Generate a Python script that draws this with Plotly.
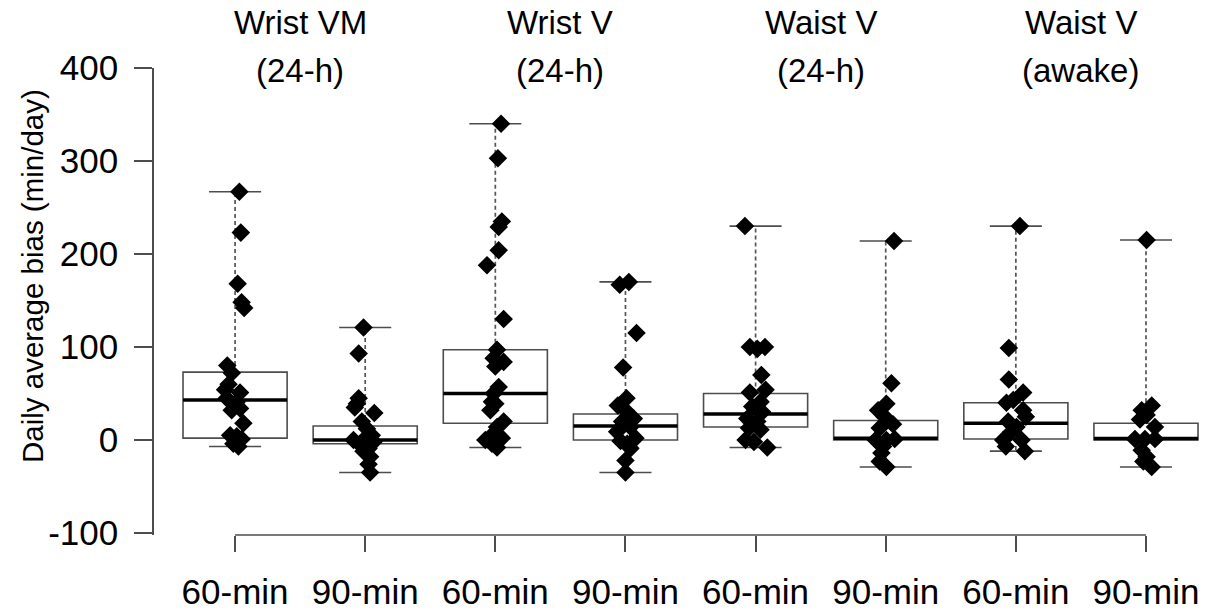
import plotly.graph_objects as go

# ---------------- data ----------------
tick_labels = ["60-min", "90-min", "60-min", "90-min", "60-min", "90-min", "60-min", "90-min"]
positions = [1, 2, 3, 4, 5, 6, 7, 8]
y_ticks = [-100, 0, 100, 200, 300, 400]
y_tick_text = ["-100", "0", "100", "200", "300", "400"]
group_titles = [("Wrist VM", "(24-h)"), ("Wrist V", "(24-h)"), ("Waist V", "(24-h)"), ("Waist V", "(awake)")]
title_pos = [1.5, 3.5, 5.5, 7.5]

# box statistics
q1 = [2, -4, 18, 0, 14, 0, 1, 0]
median = [43, 0, 50, 15, 28, 2, 18, 1.5]
q3 = [73, 15, 97, 28, 50, 21, 40, 18]

# individual participant values and their horizontal jitter (as read)
g1_vals = [267, 223, 168, 148, 142, 80, 72, 60, 54, 51, 45, 41, 32, 34, 18, 5, 4, 1, -4, -7]
g1_jit = [0.033, 0.044, 0.02, 0.05, 0.07, -0.06, -0.025, -0.05, -0.077, 0.038, -0.064, 0.013, -0.026, 0.038, 0.064, -0.038, 0.013, 0.05, -0.013, 0.026]
g2_vals = [121, 93, 45, 39, 35, 29, 20, 12, 5, 0, 0, -2, -5, -9, -12, -18, -26, -35]
g2_jit = [-0.013, -0.05, -0.05, -0.064, -0.08, 0.07, -0.026, 0.013, 0.05, -0.09, -0.013, 0.064, -0.038, 0.026, -0.013, 0.038, 0.026, 0.038]
g3_vals = [340, 303, 235, 229, 204, 188, 130, 97, 88, 84, 79, 57, 50, 41, 39, 32, 20, 14, 7, 0, 2, -4, -8]
g3_jit = [0.044, 0.02, 0.05, 0.026, 0.026, -0.064, 0.064, 0.013, -0.013, 0.064, 0.0, 0.026, -0.013, -0.026, 0.0, -0.038, 0.064, 0.013, -0.013, -0.077, 0.05, -0.026, 0.013]
g4_vals = [170, 167, 115, 78, 45, 37, 32, 23, 20, 14, 9, 2, -1, -4, -9, -22, -35]
g4_jit = [0.026, -0.044, 0.085, -0.018, 0.008, -0.059, 0.0, 0.064, -0.026, 0.038, -0.064, 0.077, -0.038, 0.013, 0.038, 0.0, 0.0]
g5_vals = [230, 100, 98, 100, 70, 54, 51, 41, 36, 30, 23, 20, 13, 11, 0, -2, -8]
g5_jit = [-0.082, -0.044, 0.013, 0.072, 0.044, 0.077, -0.044, 0.038, -0.026, 0.051, -0.064, 0.013, -0.051, 0.038, -0.077, -0.013, 0.09]
g6_vals = [214, 61, 39, 32, 25, 17, 13, 0, 0, 1, -7, -14, -23, -29]
g6_jit = [0.064, 0.044, 0.005, -0.059, -0.008, 0.056, -0.046, -0.077, 0.005, 0.069, -0.02, -0.033, -0.046, 0.005]
g7_vals = [230, 99, 65, 51, 40, 43, 32, 25, 20, 14, 9, 0, 0, -7, -12]
g7_jit = [0.031, -0.054, -0.054, 0.056, -0.072, -0.02, 0.056, 0.077, -0.059, 0.005, -0.033, 0.044, -0.097, -0.077, 0.069]
g8_vals = [215, 37, 32, 27, 14, 22, 1, 1, 1, -11, -18, -23, -29]
g8_jit = [0.005, 0.044, -0.033, 0.005, 0.069, -0.046, -0.085, -0.008, 0.069, -0.033, 0.005, -0.02, 0.044]

groups = [(g1_vals, g1_jit), (g2_vals, g2_jit), (g3_vals, g3_jit), (g4_vals, g4_jit),
          (g5_vals, g5_jit), (g6_vals, g6_jit), (g7_vals, g7_jit), (g8_vals, g8_jit)]

# ---------------- styles ----------------
FONT = "Liberation Sans, Arial, sans-serif"
LINE = "#4d4d4d"
BOX_W = 0.8
CAP_W = 0.4

fig = go.Figure()

# boxes (no whiskers; whiskers drawn dashed below)
fig.add_trace(go.Box(
    x=positions, q1=q1, median=median, q3=q3, lowerfence=q1, upperfence=q3,
    width=BOX_W, fillcolor="white", line=dict(color=LINE, width=1.6),
    whiskerwidth=0, boxpoints=False, showlegend=False, hoverinfo="skip"))

# whiskers, caps, medians
wx, wy, cx, cy, mx, my = [], [], [], [], [], []
for p, (vals, _), a, m, b in zip(positions, groups, q1, median, q3):
    lo, hi = min(vals), max(vals)
    wx += [p, p, None, p, p, None]
    wy += [b, hi, None, a, lo, None]
    cx += [p - CAP_W / 2, p + CAP_W / 2, None, p - CAP_W / 2, p + CAP_W / 2, None]
    cy += [hi, hi, None, lo, lo, None]
    mx += [p - BOX_W / 2, p + BOX_W / 2, None]
    my += [m, m, None]

fig.add_trace(go.Scatter(x=wx, y=wy, mode="lines", line=dict(color="#555555", width=1.7, dash="4px,3px"),
                         showlegend=False, hoverinfo="skip"))
fig.add_trace(go.Scatter(x=cx, y=cy, mode="lines", line=dict(color=LINE, width=1.6),
                         showlegend=False, hoverinfo="skip"))
fig.add_trace(go.Scatter(x=mx, y=my, mode="lines", line=dict(color="black", width=3.5),
                         showlegend=False, hoverinfo="skip"))

# points
for p, (vals, jit) in zip(positions, groups):
    fig.add_trace(go.Scatter(
        x=[p + j for j in jit], y=vals, mode="markers",
        marker=dict(symbol="diamond", size=11, color="black", line=dict(width=3, color="black")),
        showlegend=False, hoverinfo="skip"))

# x-axis line spanning first to last tick
fig.add_shape(type="line", xref="x", yref="paper", x0=positions[0], x1=positions[-1], y0=0, y1=0,
              line=dict(color=LINE, width=1.6))

annotations = []
for xp, (l1, l2) in zip(title_pos, group_titles):
    annotations.append(dict(x=xp, xref="x", y=1.0985, yref="paper", text=l1, showarrow=False,
                            xanchor="center", yanchor="middle", font=dict(family=FONT, size=33, color="black")))
    annotations.append(dict(x=xp, xref="x", y=0.9957, yref="paper", text=l2, showarrow=False,
                            xanchor="center", yanchor="middle", font=dict(family=FONT, size=33, color="black")))
annotations.append(dict(x=-0.1155, xref="paper", y=0.5546, yref="paper", text="Daily average bias (min/day)",
                        textangle=-90, showarrow=False, xanchor="center", yanchor="middle",
                        font=dict(family=FONT, size=29.5, color="black")))

fig.update_layout(
    width=1210, height=615,
    margin=dict(l=154, r=0, t=68, b=80),
    paper_bgcolor="white", plot_bgcolor="white",
    annotations=annotations,
    xaxis=dict(range=[0.377, 8.492], tickvals=positions, ticktext=tick_labels, showline=False,
               showgrid=False, zeroline=False, ticks="outside", ticklen=16, tickwidth=1.6, tickcolor=LINE,
               tickfont=dict(family=FONT, size=35, color="black"), ticklabelstandoff=10),
    yaxis=dict(range=[-102.15, 400], tickvals=y_ticks, ticktext=y_tick_text, showline=True,
               linecolor=LINE, linewidth=1.6, showgrid=False, zeroline=False, ticks="outside",
               ticklen=18, tickwidth=1.6, tickcolor=LINE, ticklabelstandoff=9,
               tickfont=dict(family=FONT, size=35, color="black")),
)

fig.write_html("out.html")
